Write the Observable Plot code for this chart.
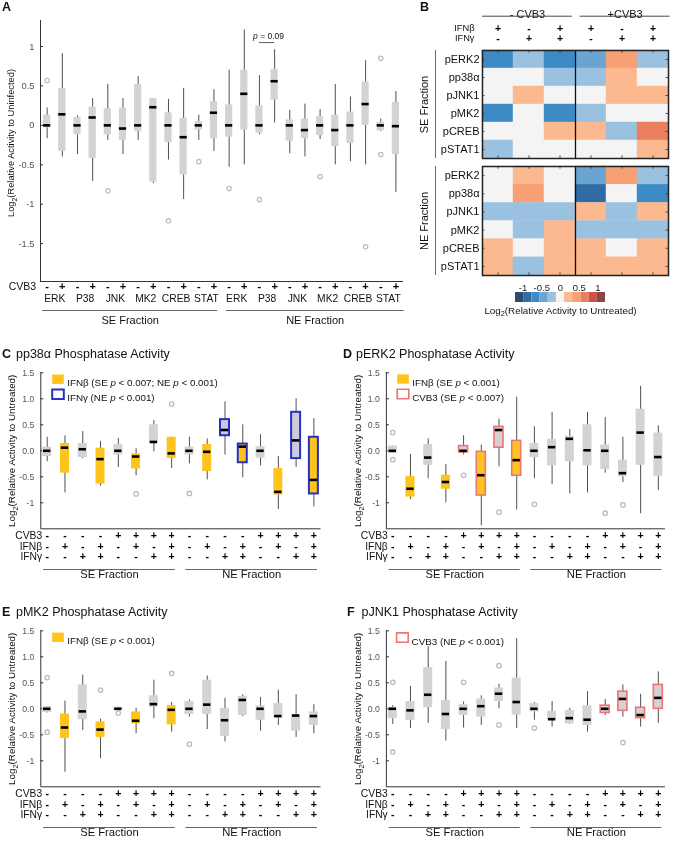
<!DOCTYPE html>
<html><head><meta charset="utf-8">
<script src="https://cdn.jsdelivr.net/npm/d3@7"></script>
<script src="https://cdn.jsdelivr.net/npm/@observablehq/plot@0.6"></script>
<style>
body{margin:0;background:#fff;}
#root{position:relative;width:680px;height:842px;overflow:hidden;font-family:"Liberation Sans",Arial,Helvetica,sans-serif;background:#fff;}
.txt{position:absolute;white-space:nowrap;line-height:1;color:#111;}
</style></head><body><div id="root"></div>
<script>
// ---------------- DATA ----------------
// Panel A
const aTargets = ["ERK","P38","JNK","MK2","CREB","STAT"];
const aCvb3 = ["-","+","-","+","-","+","-","+","-","+","-","+","-","+","-","+","-","+","-","+","-","+","-","+"];
const aMedian = [0,0.14,0,0.10,0,-0.04,0,0.23,0,-0.15,0,0.16, 0,0.40,0,0.56,0,-0.06,0,-0.06,0,0.27,0,-0.01];
const aQ1 = [-0.03,-0.33,-0.12,-0.42,-0.12,-0.19,-0.08,-0.72,-0.22,-0.63,-0.06,-0.17, -0.15,-0.06,-0.10,0.32,-0.20,-0.17,-0.13,-0.27,-0.23,0,-0.07,-0.37];
const aQ3 = [0.13,0.47,0.10,0.23,0.21,0.22,0.52,0.34,0.16,0.09,0.05,0.30, 0.26,0.70,0.25,0.71,0.07,0.08,0.11,0.13,0.17,0.55,0.04,0.29];
const aLow = [-0.17,-0.40,-0.37,-0.71,-0.19,-0.37,-0.19,-0.74,-0.44,-0.94,-0.19,-0.33, -0.53,-0.50,-0.12,0.03,-0.36,-0.40,-0.18,-0.50,-0.46,-0.50,-0.08,-0.85];
const aHigh = [0.22,0.91,0.12,0.34,0.52,0.34,0.62,0.34,0.33,0.47,0.13,0.45, 0.70,1.21,0.63,0.96,0.19,0.27,0.20,0.52,0.36,0.82,0.08,0.43];
const aOutliers = [[0,0.57],[4,-0.83],[8,-1.21],[10,-0.46],[12,-0.80],[14,-0.94],[18,-0.65],[21,-1.54],[22,0.85],[22,-0.37]];
const aYTicks = [1,0.5,0,-0.5,-1,-1.5];
const aYTickLabels = ["1","0.5","0","-0.5","-1","-1.5"];
const aFractions = [{name:"SE Fraction",a:-0.3,b:11.25},{name:"NE Fraction",a:11.8,b:23.55}];
const aPvalue = {a:14, b:15, y:1.05, label:"p = 0.09"};

// Panel B
const heatRows = ["pERK2","pp38α","pJNK1","pMK2","pCREB","pSTAT1"];
const heatGroups = [{name:"- CVB3",a:0,b:2.9},{name:"+CVB3",a:3.15,b:6.05}];
const heatIfnb = ["+","-","+","+","-","+"];
const heatIfng = ["-","+","+","-","+","+"];
const seHeat = [
  [-0.65,-0.22,-0.65,-0.44,0.44,-0.22],
  [0,0,-0.22,-0.22,0.22,0],
  [0,0.22,0,0,0.22,0.22],
  [-0.65,0,-0.65,-0.22,0,0],
  [0,0,0.22,0.22,-0.22,0.65],
  [-0.22,0,0,0,0,0.22]];
const neHeat = [
  [0,0.22,0,-0.44,0.44,-0.22],
  [0,0.44,0,-0.87,0,-0.65],
  [-0.22,-0.22,-0.22,0.22,-0.22,0.22],
  [0,-0.22,0.22,-0.22,-0.22,-0.22],
  [0.22,0,0.22,0.22,0,0.22],
  [0.22,-0.22,0.22,0.22,0.22,0.22]];
const colorbarRange = [-1.2,1.2];
const colorbarColors = ["#2d4b6f","#2f6ca4","#3d8bc4","#6aa4d3","#9bc1e1","#f4f4f4","#fcb88e","#f7a073","#ea7f5d","#d24f48","#8b4747"];
const colorbarTicks = [-1,-0.5,0,0.5,1];
const colorbarTickLabels = ["-1","-0.5","0","0.5","1"];

// Panels C-F (16 conditions)
const condCvb3 = ["-","-","-","-","+","+","+","+","-","-","-","-","+","+","+","+"];
const condIfnb = ["-","+","-","+","-","+","-","+","-","+","-","+","-","+","-","+"];
const condIfng = ["-","-","+","+","-","-","+","+","-","-","+","+","-","-","+","+"];
const phosTicks = [1.5,1,0.5,0,-0.5,-1];
const phosTickLabels = ["1.5","1.0","0.5","0.0","-0.5","-1"];
const phosFractions = [{name:"SE Fraction",a:-0.2,b:7.2},{name:"NE Fraction",a:7.8,b:15.2}];

const p38Median = [0,0.06,0.03,-0.16,0,-0.11,0.17,-0.05, 0,-0.02,0.40,0.08,0,-0.79,0.20,-0.56];
const p38Q1 = [-0.11,-0.43,-0.13,-0.64,-0.08,-0.35,0.15,-0.15, -0.08,-0.40,0.29,-0.23,-0.14,-0.85,-0.15,-0.83];
const p38Q3 = [0.07,0.14,0.14,0.05,0.12,-0.06,0.50,0.26, 0.07,0.12,0.60,0.13,0.08,-0.34,0.74,0.26];
const p38Low = [-0.21,-0.81,-0.15,-0.68,-0.32,-0.48,-0.02,-0.34, -0.25,-0.56,-0.08,-0.52,-0.29,-1.13,-0.32,-1.08];
const p38High = [0.26,0.29,0.37,0.18,0.24,0.04,0.58,0.26, 0.26,0.23,0.94,0.50,0.31,-0.11,1.0,0.62];
const p38Outliers = [[5,-0.83],[7,0.90],[8,-0.82]];
const p38Fill = ["gray","ifnb","gray","ifnb","gray","ifnb","gray","ifnb","gray","ifnb","gray","ifnb","gray","ifnb","gray","ifnb"];
const p38Outline = ["none","none","none","none","none","none","none","none","none","none","ifng","ifng","none","none","ifng","ifng"];
const p38Legend = [{key:"ifnb",text:"IFNβ (SE p < 0.007; NE p < 0.001)"},{key:"ifng",text:"IFNγ (NE p < 0.001)"}];

const erkMedian = [0,-0.73,-0.13,-0.60,0,-0.47,0.40,-0.18, 0,0.07,0.23,0.01,0,-0.43,0.35,-0.12];
const erkQ1 = [-0.05,-0.89,-0.28,-0.74,-0.03,-0.86,0.06,-0.48, -0.13,-0.29,-0.21,-0.29,-0.36,-0.50,-0.28,-0.49];
const erkQ3 = [0.09,-0.49,0.12,-0.47,0.09,-0.02,0.46,0.19, 0.14,0.22,0.28,0.50,0.11,-0.18,0.80,0.34];
const erkLow = [-0.05,-0.94,-0.54,-1.0,-0.08,-1.44,-0.31,-1.14, -0.54,-0.65,-0.83,-0.81,-0.43,-0.61,-1.21,-0.76];
const erkHigh = [0.09,-0.07,0.23,-0.26,0.29,0.11,0.61,1.03, 0.46,0.74,0.41,0.74,0.64,0.26,1.24,0.48];
const erkOutliers = [[0,0.35],[0,-0.17],[4,-0.47],[6,-1.18],[8,-1.03],[12,-1.2],[13,-1.04]];
const erkFill = ["gray","ifnb","gray","ifnb","gray","ifnb","gray","ifnb","gray","gray","gray","gray","gray","gray","gray","gray"];
const erkOutline = ["none","none","none","none","cvb3","cvb3","cvb3","cvb3","none","none","none","none","none","none","none","none"];
const erkLegend = [{key:"ifnb",text:"IFNβ (SE p < 0.001)"},{key:"cvb3",text:"CVB3 (SE p < 0.007)"}];

const mk2Median = [0,-0.36,-0.05,-0.40,0,-0.23,0.09,-0.02, 0,0.08,-0.22,0.17,0,-0.14,-0.13,-0.14];
const mk2Q1 = [-0.07,-0.57,-0.21,-0.55,-0.02,-0.29,0.03,-0.31, -0.11,-0.11,-0.53,-0.13,-0.22,-0.18,-0.43,-0.32];
const mk2Q3 = [0.04,-0.10,0.46,-0.25,0.03,-0.06,0.25,0.06, 0.14,0.55,0.01,0.24,0.06,0.10,-0.11,-0.06];
const mk2Low = [-0.08,-1.22,-0.42,-0.96,-0.02,-0.48,-0.19,-0.45, -0.16,-0.40,-0.64,-0.15,-0.43,-0.32,-0.55,-0.48];
const mk2High = [0.04,0.15,0.65,-0.20,0.03,0.01,0.55,0.12, 0.17,0.63,0.20,0.27,0.22,0.36,0.27,0.08];
const mk2Outliers = [[0,0.60],[0,-0.45],[3,0.36],[4,-0.08],[7,0.68],[8,-0.68]];
const mk2Fill = ["gray","ifnb","gray","ifnb","gray","ifnb","gray","ifnb","gray","gray","gray","gray","gray","gray","gray","gray"];
const mk2Outline = Array(16).fill("none");
const mk2Legend = [{key:"ifnb",text:"IFNβ (SE p < 0.001)"}];

const jnkMedian = [0,-0.03,0.27,-0.10,0,0.05,0.29,0.13, 0,-0.20,-0.18,-0.21,0,0.19,-0.12,0.21];
const jnkQ1 = [-0.19,-0.22,0.02,-0.40,-0.13,-0.16,0.14,-0.12, -0.06,-0.21,-0.29,-0.32,-0.08,-0.04,-0.18,0];
const jnkQ3 = [0.03,0.14,0.79,0.16,0.08,0.19,0.40,0.59, 0.10,-0.05,-0.03,0.06,0.06,0.33,0.02,0.46];
const jnkLow = [-0.30,-0.38,-0.28,-0.62,-0.37,-0.32,0,-0.38, -0.22,-0.35,-0.30,-0.45,-0.13,-0.16,-0.35,-0.28];
const jnkHigh = [0.06,0.43,1.19,0.91,0.13,0.25,0.47,1.35, 0.12,0.14,0.01,0.33,0.18,0.46,0.28,0.71];
const jnkOutliers = [[0,0.51],[0,-0.83],[4,0.51],[6,0.83],[6,-0.31],[8,-0.37],[13,-0.65]];
const jnkFill = Array(16).fill("gray");
const jnkOutline = ["none","none","none","none","none","none","none","none","none","none","none","none","cvb3","cvb3","cvb3","cvb3"];
const jnkLegend = [{key:"cvb3",text:"CVB3 (NE p < 0.001)"}];

// ---------------- STYLE ----------------
const FONT = '"Liberation Sans", Arial, Helvetica, sans-serif';
const AXIS = "#333";
const TICKTXT = "#555";
const WHISKER = "#505050";
const OUTLIER = "#bcbcbc";
const FILLS = {gray:"#d3d3d3", ifnb:"#fcc41c"};
const OUTLINED_GRAY = {ifng:"#cbcbdc", cvb3:"#d8d0d0"};
const OUTLINES = {ifng:{stroke:"#2630c6",w:2}, cvb3:{stroke:"#ee7373",w:1.6}};
const root = document.getElementById("root");
const ns = "http://www.w3.org/2000/svg";

function enrich(svg){
  for (const t of svg.querySelectorAll("text")) {
    if (t.children.length) continue;
    const s = t.textContent;
    if (s.startsWith("Log2(")) {
      t.textContent = "Log";
      const sub = document.createElementNS(ns,"tspan");
      sub.setAttribute("dy","2.5"); sub.setAttribute("font-size","0.75em"); sub.textContent = "2";
      const rest = document.createElementNS(ns,"tspan");
      rest.setAttribute("dy","-2.5"); rest.textContent = s.slice(4);
      t.appendChild(sub); t.appendChild(rest);
    } else if (/(^|[ (])p [<=]/.test(s)) {
      t.textContent = "";
      const re = /(^|[ (])p(?= [<=])/g; let last = 0, m;
      while ((m = re.exec(s))) {
        const idx = m.index + m[1].length;
        t.appendChild(document.createTextNode(s.slice(last, idx)));
        const it = document.createElementNS(ns,"tspan");
        it.setAttribute("font-style","italic"); it.textContent = "p";
        t.appendChild(it); last = idx + 1;
      }
      t.appendChild(document.createTextNode(s.slice(last)));
    }
  }
}
function mount(svg, left, top){
  svg.style.position="absolute"; svg.style.left=left+"px"; svg.style.top=top+"px";
  svg.style.maxWidth="none"; svg.style.background="transparent"; svg.style.overflow="visible";
  svg.style.willChange="transform";
  enrich(svg); root.appendChild(svg);
}
function htmlText(str, x, yc, size, bold){
  const d = document.createElement("div"); d.className="txt"; d.textContent=str;
  d.style.left=x+"px"; d.style.top=(yc-0.55*size)+"px"; d.style.fontSize=size+"px";
  if (bold) d.style.fontWeight="bold"; root.appendChild(d);
}
const baseStyle = {fontFamily: FONT, fontSize:"10px", background:"transparent", overflow:"visible", color:"#111"};
const rectSymbol = {draw(ctx){ ctx.rect(-5.8,-4.7,11.6,9.4); }};

// ---------------- PANEL A ----------------
(function(){
  const rows = aMedian.map((m,i)=>({i, med:m, q1:aQ1[i], q3:aQ3[i], lo:aLow[i], hi:aHigh[i], sign:aCvb3[i]}));
  const outs = aOutliers.map(([i,v])=>({i,v}));
  const cats = [];
  for (let f=0; f<2; f++) aTargets.forEach((t,k)=>cats.push({x: f*12 + 2*k + 0.5, t}));
  const xd=[-0.44,23.5], yd=[-1.98,1.33], half=3.6;
  const svg = Plot.plot({
    width:420, height:335, marginLeft:40, marginRight:17, marginTop:20, marginBottom:54,
    x:{domain:xd, axis:null}, y:{domain:yd, axis:null}, color:{type:"identity"}, style:baseStyle,
    marks:[
      Plot.ruleX([xd[0]], {y1:()=>yd[0], y2:()=>yd[1], stroke:AXIS}),
      Plot.ruleY([yd[0]], {x1:()=>xd[0], x2:()=>xd[1], stroke:AXIS}),
      Plot.ruleY(aYTicks, {x1:()=>xd[0], x2:()=>xd[0], insetRight:-3, stroke:AXIS}),
      Plot.axisY(aYTicks, {tickSize:0, tickPadding:6, fontSize:9.3, color:TICKTXT, tickFormat:d=>aYTickLabels[aYTicks.indexOf(d)]}),
      Plot.ruleX(rows, {x:"i", y1:"lo", y2:"hi", stroke:WHISKER, strokeWidth:1}),
      Plot.rect(rows, {x1:"i", x2:"i", y1:"q1", y2:"q3", insetLeft:-half, insetRight:-half, fill:FILLS.gray}),
      Plot.ruleY(rows, {y:"med", x1:"i", x2:"i", insetLeft:-half, insetRight:-half, stroke:"#000", strokeWidth:2.6}),
      Plot.dot(outs, {x:"i", y:"v", r:2.2, stroke:OUTLIER, strokeWidth:1.2, fill:"none"}),
      Plot.ruleY([aPvalue], {x1:"a", x2:"b", y:"y", stroke:"#333", strokeWidth:0.8}),
      Plot.text([aPvalue], {x:d=>(d.a+d.b)/2+0.1, y:"y", dy:-6.5, text:"label", fontSize:8.5}),
      Plot.text(rows, {x:"i", text:"sign", frameAnchor:"bottom", dy:8, fontSize:11, fontWeight:"bold", fill:"#000"}),
      Plot.text(["CVB3"], {x:()=>0, text:d=>d, frameAnchor:"bottom", dy:8, dx:-11, textAnchor:"end", fontSize:10.5}),
      Plot.text(cats, {x:"x", text:"t", frameAnchor:"bottom", dy:20, fontSize:10.3}),
      Plot.ruleY(aFractions, {x1:"a", x2:"b", y:()=>yd[0], dy:29, stroke:"#555", strokeWidth:0.9}),
      Plot.text(aFractions, {x:d=>(d.a+d.b)/2, text:"name", frameAnchor:"bottom", dy:42, fontSize:11}),
      Plot.text(["Log2(Relative Activity to Uninfected)"], {text:d=>d, frameAnchor:"left", textAnchor:"middle", rotate:-90, dx:-29, dy:-8, fontSize:9.3})
    ]
  });
  mount(svg, 0, 0);
  htmlText("A", 2, 7.5, 12.5, true);
})();

// ---------------- PANEL B ----------------
const binStep = (colorbarRange[1]-colorbarRange[0]) / colorbarColors.length;
const heatThresholds = d3.range(1, colorbarColors.length).map(k => colorbarRange[0] + k*binStep);
function heatPlot(values, fractionName, header, svgTop, height, mTop, mBottom){
  const cells = values.flatMap((row,r)=>row.map((v,c)=>({r,c,v})));
  const cols = d3.range(6), rws = d3.range(6);
  const marks = [
    Plot.rect(cells, {x1:"c", x2:d=>d.c+1, y1:"r", y2:d=>d.r+1, fill:"v", stroke:"v", strokeWidth:0.4}),
    Plot.ruleX(cols, {x:d=>d+0.5, y1:()=>0, y2:()=>0.15, stroke:"#333", strokeWidth:0.8}),
    Plot.ruleX(cols, {x:d=>d+0.5, y1:()=>5.85, y2:()=>6, stroke:"#333", strokeWidth:0.8}),
    Plot.ruleY(rws, {y:d=>d+0.5, x1:()=>5.92, x2:()=>6, stroke:"#333", strokeWidth:0.8}),
    Plot.ruleY(rws, {y:d=>d+0.5, x1:()=>0, x2:()=>0.08, stroke:"#333", strokeWidth:0.8}),
    Plot.ruleX([3], {stroke:"#111", strokeWidth:1.3}),
    Plot.frame({stroke:"#222", strokeWidth:1.5}),
    Plot.text(heatRows, {y:(d,i)=>i+0.5, text:d=>d, frameAnchor:"left", textAnchor:"end", dx:-3, fontSize:11}),
    Plot.text([fractionName], {text:d=>d, frameAnchor:"left", textAnchor:"middle", rotate:-90, dx:-58.5, fontSize:11}),
    Plot.ruleX([0], {dx:-47, stroke:"#444", strokeWidth:0.8})
  ];
  if (header) {
    marks.push(
      Plot.text(heatGroups, {x:d=>(d.a+d.b)/2, text:"name", frameAnchor:"top", dy:-40, fontSize:11}),
      Plot.ruleY(heatGroups, {x1:"a", x2:"b", y:()=>0, dy:-34.3, stroke:"#333", strokeWidth:0.9}),
      Plot.text(heatIfnb, {x:(d,i)=>i+0.5, text:d=>d, frameAnchor:"top", dy:-26, fontSize:10.5, fontWeight:"bold", fill:"#000"}),
      Plot.text(heatIfng, {x:(d,i)=>i+0.5, text:d=>d, frameAnchor:"top", dy:-16, fontSize:10.5, fontWeight:"bold", fill:"#000"}),
      Plot.text(["IFNβ"], {x:()=>0, text:d=>d, frameAnchor:"top", dy:-26, dx:-8, textAnchor:"end", fontSize:9.3}),
      Plot.text(["IFNγ"], {x:()=>0, text:d=>d, frameAnchor:"top", dy:-16, dx:-8, textAnchor:"end", fontSize:9.3})
    );
  }
  const svg = Plot.plot({
    width:280, height, marginLeft:82, marginRight:12, marginTop:mTop, marginBottom:mBottom,
    x:{domain:[0,6], axis:null}, y:{domain:[0,6], reverse:true, axis:null},
    color:{type:"threshold", domain:heatThresholds, range:colorbarColors},
    style:baseStyle, marks
  });
  mount(svg, 400, svgTop);
}
heatPlot(seHeat, "SE Fraction", true, 0, 162, 50, 4);
heatPlot(neHeat, "NE Fraction", false, 160, 120, 6, 5);
(function(){
  const bins = colorbarColors.map((c,k)=>({a:colorbarRange[0]+k*binStep, b:colorbarRange[0]+(k+1)*binStep, c}));
  const svg = Plot.plot({
    width:130, height:50, marginLeft:15, marginRight:25, marginTop:20, marginBottom:20,
    x:{domain:colorbarRange, axis:null}, color:{type:"identity"}, style:baseStyle,
    marks:[
      Plot.rect(bins, {x1:"a", x2:"b", fill:"c"}),
      Plot.axisX(colorbarTicks, {anchor:"top", tickSize:0, tickPadding:2, fontSize:9.5, color:"#222", tickFormat:d=>colorbarTickLabels[colorbarTicks.indexOf(d)]}),
      Plot.text(["Log2(Relative Activity to Untreated)"], {text:d=>d, frameAnchor:"bottom", dy:11, fontSize:9.8})
    ]
  });
  mount(svg, 500, 272);
  htmlText("B", 420, 7.5, 12.5, true);
})();

// ---------------- PANELS C-F ----------------
function phosPanel(p){
  const rows = p.median.map((m,i)=>({i, med:m, q1:p.q1[i], q3:p.q3[i], lo:p.lo[i], hi:p.hi[i], fill:p.fill[i], outline:p.outline[i]}));
  const outs = p.outliers.map(([i,v])=>({i,v}));
  const conds = condCvb3.map((c,i)=>({i, cvb3:c, ifnb:condIfnb[i], ifng:condIfng[i]}));
  const xd=[-0.36,15.4], yd=[-1.5,1.5], half=4.5;
  const boxFill = d => d.fill === "gray" && d.outline !== "none" ? OUTLINED_GRAY[d.outline] : FILLS[d.fill];
  const outlined = rows.filter(d=>d.outline!=="none");
  const marks = [
    Plot.ruleX([xd[0]], {y1:()=>yd[0], y2:()=>yd[1], stroke:AXIS}),
    Plot.ruleY([yd[0]], {x1:()=>xd[0], x2:()=>xd[1], stroke:AXIS}),
    Plot.ruleY(phosTicks, {x1:()=>xd[0], x2:()=>xd[0], insetRight:-3, stroke:AXIS}),
    Plot.axisY(phosTicks, {tickSize:0, tickPadding:6.5, fontSize:8.7, color:TICKTXT, tickFormat:d=>phosTickLabels[phosTicks.indexOf(d)]}),
    Plot.ruleX(rows, {x:"i", y1:"lo", y2:"hi", stroke:WHISKER, strokeWidth:1}),
    Plot.rect(rows, {x1:"i", x2:"i", y1:"q1", y2:"q3", insetLeft:-half, insetRight:-half, fill:boxFill}),
    Plot.rect(outlined, {x1:"i", x2:"i", y1:"q1", y2:"q3", insetLeft:-half, insetRight:-half, fill:"none",
      stroke:d=>OUTLINES[d.outline].stroke, strokeWidth:OUTLINES[outlined.length?outlined[0].outline:"ifng"].w}),
    Plot.ruleY(rows, {y:"med", x1:"i", x2:"i", insetLeft:-half+0.8, insetRight:-half+0.8, stroke:"#000", strokeWidth:2.6}),
    Plot.dot(outs, {x:"i", y:"v", r:2.2, stroke:OUTLIER, strokeWidth:1.3, fill:"none"}),
    Plot.text(conds, {x:"i", text:"cvb3", frameAnchor:"bottom", dy:10, fontSize:10.5, fontWeight:"bold", fill:"#000"}),
    Plot.text(conds, {x:"i", text:"ifnb", frameAnchor:"bottom", dy:20.8, fontSize:10.5, fontWeight:"bold", fill:"#000"}),
    Plot.text(conds, {x:"i", text:"ifng", frameAnchor:"bottom", dy:31, fontSize:10.5, fontWeight:"bold", fill:"#000"}),
    Plot.text(["CVB3"], {x:()=>0, text:d=>d, frameAnchor:"bottom", dy:10, dx:-5, textAnchor:"end", fontSize:10.3}),
    Plot.text(["IFNβ"], {x:()=>0, text:d=>d, frameAnchor:"bottom", dy:20.8, dx:-5, textAnchor:"end", fontSize:10.3}),
    Plot.text(["IFNγ"], {x:()=>0, text:d=>d, frameAnchor:"bottom", dy:31, dx:-5, textAnchor:"end", fontSize:10.3}),
    Plot.ruleY(phosFractions, {x1:"a", x2:"b", y:()=>yd[0], dy:40.7, stroke:"#555", strokeWidth:0.9}),
    Plot.text(phosFractions, {x:d=>(d.a+d.b)/2, text:"name", frameAnchor:"bottom", dy:49.3, fontSize:11.2}),
    Plot.text(["Log2(Relative Activity to Untreated)"], {text:d=>d, frameAnchor:"left", textAnchor:"middle", rotate:-90, dx:-28.5, fontSize:9.8})
  ];
  p.legend.forEach((item,k)=>{
    const sw = item.key === "ifnb" ? {fill:FILLS.ifnb, stroke:"none", w:0} : {fill:"#fff", stroke:OUTLINES[item.key].stroke, w:OUTLINES[item.key].w};
    marks.push(
      Plot.dot([item], {frameAnchor:"top-left", dx:p.legDx, dy:p.legDy + k*15, symbol:rectSymbol, r:5, fill:sw.fill, stroke:sw.stroke, strokeWidth:sw.w}),
      Plot.text([item], {frameAnchor:"top-left", dx:p.legDx+9.2, dy:p.legDy + k*15, text:"text", textAnchor:"start", fontSize:9.8})
    );
  });
  const svg = Plot.plot({
    width:340, height:250, marginLeft:p.mLeft, marginRight:340-p.mLeft-p.innerW, marginTop:32.3, marginBottom:250-32.3-156,
    x:{domain:xd, axis:null}, y:{domain:yd, axis:null}, color:{type:"identity"}, style:baseStyle, marks
  });
  mount(svg, p.left, p.top);
  htmlText(p.letter, p.letterX, p.top+15, 12.5, true);
  htmlText(p.title, p.titleX, p.top+15, 12.5, false);
}
phosPanel({letter:"C", title:"pp38α Phosphatase Activity", left:0, top:340, mLeft:40.3, innerW:280.2, letterX:2, titleX:16,
  median:p38Median, q1:p38Q1, q3:p38Q3, lo:p38Low, hi:p38High, outliers:p38Outliers, fill:p38Fill, outline:p38Outline, legend:p38Legend, legDx:17.2, legDy:6.4});
phosPanel({letter:"D", title:"pERK2 Phosphatase Activity", left:340, top:340, mLeft:45.9, innerW:279, letterX:343, titleX:356,
  median:erkMedian, q1:erkQ1, q3:erkQ3, lo:erkLow, hi:erkHigh, outliers:erkOutliers, fill:erkFill, outline:erkOutline, legend:erkLegend, legDx:16.6, legDy:6.2});
phosPanel({letter:"E", title:"pMK2 Phosphatase Activity", left:0, top:598, mLeft:40.3, innerW:280.2, letterX:2, titleX:16,
  median:mk2Median, q1:mk2Q1, q3:mk2Q3, lo:mk2Low, hi:mk2High, outliers:mk2Outliers, fill:mk2Fill, outline:mk2Outline, legend:mk2Legend, legDx:17.2, legDy:6.5});
phosPanel({letter:"F", title:"pJNK1 Phosphatase Activity", left:340, top:598, mLeft:45.9, innerW:279, letterX:347, titleX:361.5,
  median:jnkMedian, q1:jnkQ1, q3:jnkQ3, lo:jnkLow, hi:jnkHigh, outliers:jnkOutliers, fill:jnkFill, outline:jnkOutline, legend:jnkLegend, legDx:16, legDy:6.8});
</script></body></html>
